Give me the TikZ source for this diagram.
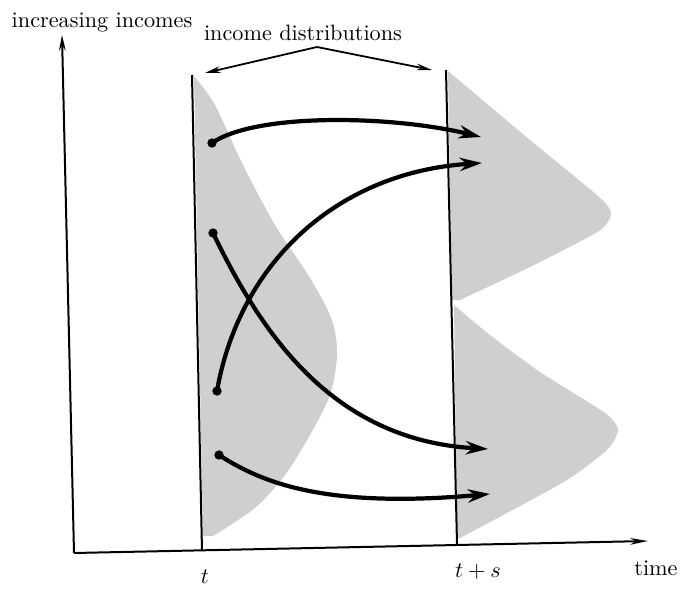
\documentclass[tikz,border=0pt]{standalone}
\usetikzlibrary{arrows.meta}
\begin{document}
\begin{tikzpicture}[x=0.45pt,y=-0.45pt,
  axis/.style={line width=0.9pt},
  vline/.style={line width=0.9pt},
  flow/.style={line width=1.9pt,-{Stealth[length=10pt,width=6pt]}},
  pointer/.style={line width=0.8pt,-{Stealth[length=7pt,width=3pt]}},
  shade/.style={fill=black!19,draw=none},
  lbl/.style={inner sep=0pt,anchor=base}]
\useasboundingbox (0,0) rectangle (683,588);
% shaded distributions
\fill[shade] plot[smooth,tension=0.5] coordinates {(194,76) (215,105) (243,165) (275,225) (310,278) (332,320) (337,355) (330,395) (310,435) (285,475) (255,508) (213,536)} -- (203,536) -- cycle;
\fill[shade] plot[smooth,tension=0.4] coordinates {(448,71) (530,140) (598,196) (611,213) (599,231) (530,267) (460,300)} -- (452,300) -- cycle;
\fill[shade] plot[smooth,tension=0.4] coordinates {(454,305) (490,335) (540,372) (605,413) (618,430) (607,450) (567,480) (507,513) (460,538)} -- (457,538) -- cycle;
% axes
\coordinate (O) at (74,553);
\coordinate (ytop) at (62,35);
\coordinate (xend) at (648,541);
\draw[axis,-{Stealth[length=7pt,width=3pt]}] (O) -- (ytop);
\draw[axis,-{Stealth[length=8pt,width=3pt]}] (O) -- (xend);
% time lines
\coordinate (t1top) at (192,75); \coordinate (t1bot) at (202,551);
\coordinate (t2top) at (446,70); \coordinate (t2bot) at (457,544);
\draw[vline] (t1top) -- (t1bot);
\draw[vline] (t2top) -- (t2bot);
% labels
\node[lbl] (ylab) at (102,27) {increasing incomes};
\node[lbl] (dlab) at (303,40) {income distributions};
\node[lbl] (tlab) at (205,583) {$t$};
\node[lbl] (tslab) at (478,577) {$t+s$};
\node[lbl] (timelab) at (656,575) {time};
% pointers
\coordinate (apex) at (317,47);
\coordinate (pl) at (205,73);
\coordinate (pr) at (432,70);
\draw[pointer] (apex) -- (pl);
\draw[pointer] (apex) -- (pr);
% flows
\coordinate (s1) at (212,143); \coordinate (e1) at (481,137);
\coordinate (s2) at (217,391); \coordinate (e2) at (482,163);
\coordinate (s3) at (213,233); \coordinate (e3) at (488,449);
\coordinate (s4) at (219,455); \coordinate (e4) at (490,494);
\draw[flow] (s1) .. controls (255,113) and (390,115) .. (e1);
\draw[flow] (s2) .. controls (240,260) and (340,172) .. (e2);
\draw[flow] (s3) .. controls (260,330) and (330,440) .. (e3);
\draw[flow] (s4) .. controls (265,485) and (330,508) .. (e4);
\foreach \p in {s1,s2,s3,s4} \fill (\p) circle[radius=2.1pt];
\end{tikzpicture}
\end{document}
